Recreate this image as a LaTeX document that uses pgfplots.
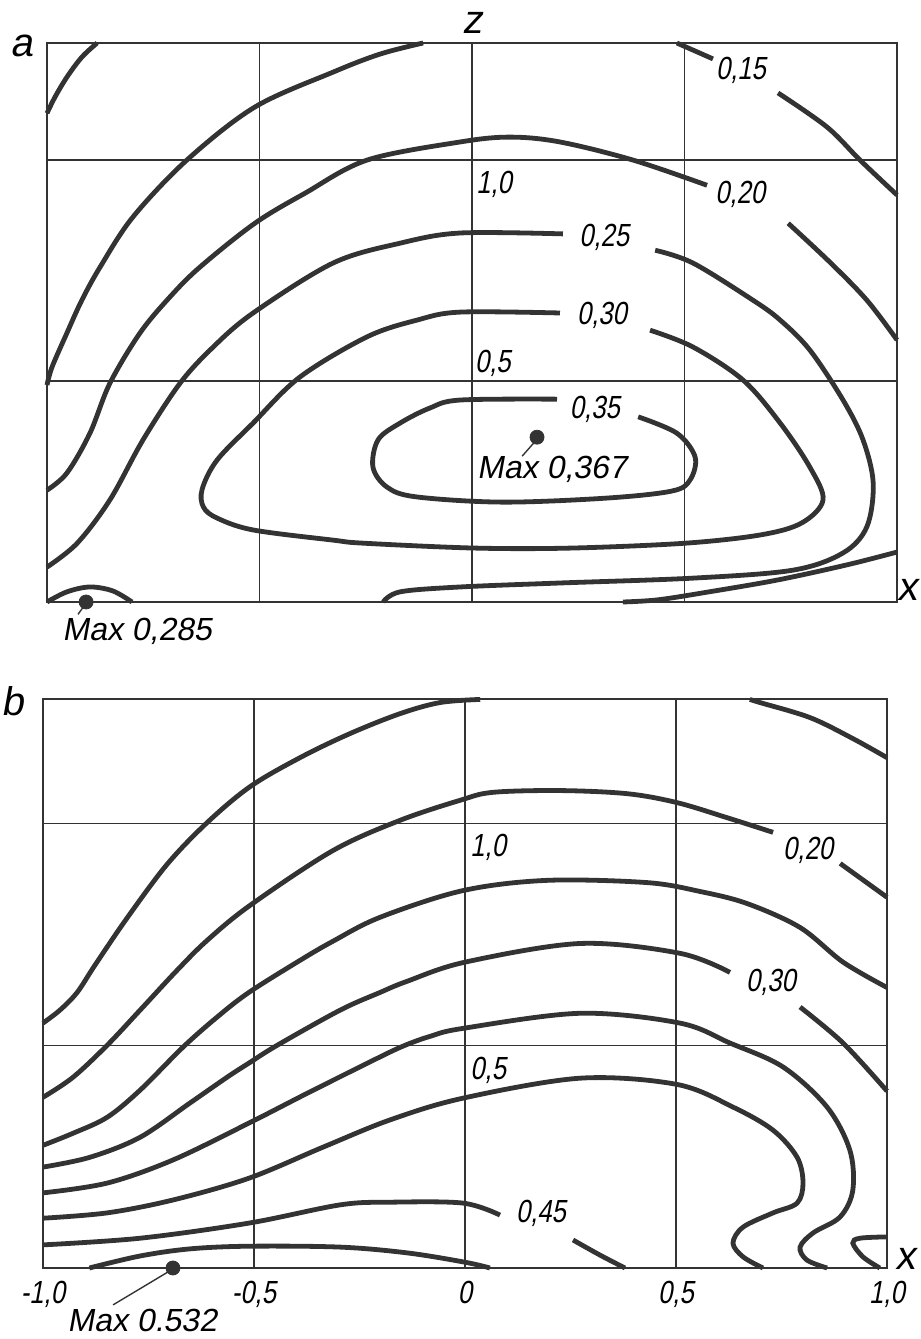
\documentclass[border=0pt]{standalone}
\usepackage{pgfplots}
\pgfplotsset{compat=1.18}
\usepackage{fontspec}
\setmainfont{Liberation Sans}
\newfontfamily\labfont[FakeSlant=0.18,FakeStretch=0.8]{Liberation Sans}
\newfontfamily\maxfont[FakeSlant=0.18]{Liberation Sans}
\newcommand\lab{\labfont\fontsize{16}{18}\selectfont}
\newcommand\mlab{\maxfont\fontsize{16}{18}\selectfont}
\newcommand\biglab{\maxfont\fontsize{20}{22}\selectfont}
\definecolor{ink}{HTML}{333333}
\pgfplotsset{
  cl/.style={ink, line width=2.4pt, smooth, tension=0.55},
  panel/.style={scale only axis, xmin=-1, xmax=1, ymin=0,
    axis line style={ink, line width=0.9pt},
    grid=major, major grid style={ink, line width=0.7pt},
    major tick length=0pt,
    ytick={0.5,1}, yticklabels={},
    clip=false},
}
\begin{document}
\begin{tikzpicture}
\path[use as bounding box] (0pt,0pt) rectangle (460.5pt,669.5pt);
% ---------------- panel a ----------------
\begin{axis}[panel, at={(23.5pt,368.5pt)}, anchor=south west,
  width=425pt, height=279.5pt, ymax=1.265,
  xtick={-0.5,0,0.5}, xticklabels={}]
\addplot[cl] coordinates {(-1,1.106) (-0.981,1.143) (-0.953,1.188) (-0.918,1.233) (-0.882,1.265)};
\addplot[cl] coordinates {(-0.115,1.265) (-0.216,1.240) (-0.327,1.199) (-0.511,1.120) (-0.671,1.0) (-0.798,0.871) (-0.875,0.758) (-0.918,0.683) (-0.953,0.609) (-0.988,0.532) (-1,0.491)};
\addplot[cl] coordinates {(0.482,1.265) (0.567,1.229)};
\addplot[cl] coordinates {(0.720,1.152) (0.835,1.075) (0.913,1.0) (1.0,0.921)};
% 0.20
\addplot[cl] coordinates {(-1,0.253) (-0.953,0.292) (-0.899,0.382) (-0.852,0.495) (-0.781,0.609) (-0.711,0.690) (-0.640,0.758) (-0.511,0.857) (-0.393,0.925) (-0.247,1.0) (-0.028,1.041) (0.089,1.052) (0.207,1.041) (0.379,1.0) (0.553,0.943)};
\addplot[cl] coordinates {(0.744,0.857) (0.842,0.769) (0.929,0.683) (1.0,0.593)};
% 0.25
\addplot[cl] coordinates {(-1,0.079) (-0.929,0.133) (-0.852,0.231) (-0.774,0.367) (-0.687,0.495) (-0.609,0.577) (-0.515,0.654) (-0.327,0.767) (-0.169,0.812) (-0.028,0.835) (0.214,0.833)};
\addplot[cl] coordinates {(0.431,0.796) (0.520,0.767) (0.661,0.683) (0.725,0.638) (0.795,0.570) (0.873,0.457) (0.920,0.367) (0.944,0.269) (0.929,0.170) (0.873,0.111) (0.755,0.072) (0.520,0.054) (0.207,0.043) (-0.028,0.034) (-0.169,0.023) (-0.209,0.0)};
% 0.30
\addplot[cl] coordinates {(0.207,0.654) (-0.028,0.656) (-0.129,0.638) (-0.247,0.600) (-0.405,0.509) (-0.515,0.405) (-0.600,0.321) (-0.635,0.255) (-0.632,0.215) (-0.600,0.190) (-0.515,0.163) (-0.327,0.140) (-0.254,0.133) (0.007,0.122) (0.233,0.122) (0.501,0.133) (0.680,0.152) (0.776,0.179) (0.826,0.231) (0.795,0.305) (0.725,0.405) (0.638,0.502) (0.520,0.577) (0.419,0.615)};
% 0.35
\addplot[cl] coordinates {(0.200,0.459) (-0.028,0.457) (-0.099,0.439) (-0.169,0.405) (-0.221,0.367) (-0.233,0.305) (-0.200,0.260) (-0.132,0.238) (0.071,0.226) (0.315,0.235) (0.470,0.251) (0.513,0.276) (0.525,0.328) (0.482,0.382) (0.391,0.419)};
% small lens near origin left
\addplot[cl] coordinates {(-1,0) (-0.953,0.023) (-0.899,0.034) (-0.845,0.025) (-0.800,0)};
% bottom right
\addplot[cl] coordinates {(1.0,0.113) (0.882,0.084) (0.720,0.050) (0.558,0.023) (0.438,0.005) (0.355,0)};
% maxima
\addplot[ink, line width=0.7pt] coordinates {(0.150,0.365) (0.118,0.330)};
\addplot[only marks, mark=*, mark size=3.5pt, ink] coordinates {(0.153,0.373)};
\addplot[ink, line width=0.7pt] coordinates {(-0.910,-0.005) (-0.927,-0.028)};
\addplot[only marks, mark=*, mark size=3.5pt, ink] coordinates {(-0.908,0)};
% labels
\node[font=\lab] at (0.633,1.204) {0,15};
\node[font=\lab] at (0.631,0.923) {0,20};
\node[font=\lab] at (0.311,0.826) {0,25};
\node[font=\lab] at (0.306,0.649) {0,30};
\node[font=\lab] at (0.289,0.437) {0,35};
\node[font=\lab] at (0.052,0.946) {1,0};
\node[font=\lab] at (0.049,0.541) {0,5};
\node[font=\mlab] at (0.188,0.299) {Max 0,367};
\node[font=\mlab] at (-0.788,-0.066) {Max 0,285};
\node[font=\biglab] at (0,1.31) {z};
\node[font=\biglab] at (-1.059,1.258) {a};
\node[font=\biglab, inner sep=0pt] at (1.024,0.028) {x};
\end{axis}
% ---------------- panel b ----------------
\begin{axis}[panel, at={(21.5pt,35.5pt)}, anchor=south west,
  width=422pt, height=284.5pt, ymax=1.28,
  xtick={-1,-0.5,0,0.5,1},
  xticklabels={{-1,0},{-0,5},{0},{0,5},{1,0}},
  xticklabel style={font=\lab, yshift=-3pt}]
\addplot[cl] coordinates {(-1,0.551) (-0.960,0.580) (-0.919,0.620) (-0.877,0.681) (-0.801,0.787) (-0.706,0.908) (-0.611,1.002) (-0.509,1.083) (-0.391,1.148) (-0.273,1.202) (-0.154,1.247) (-0.059,1.272) (0.036,1.279)};
\addplot[cl] coordinates {(0.675,1.279) (0.699,1.272) (0.818,1.238) (0.919,1.191) (1.0,1.148)};
% 0.20
\addplot[cl] coordinates {(-1,0.384) (-0.929,0.429) (-0.848,0.501) (-0.770,0.580) (-0.682,0.670) (-0.611,0.737) (-0.509,0.816) (-0.313,0.939) (-0.154,1.007) (-0.012,1.052) (0.066,1.070) (0.225,1.074) (0.384,1.067) (0.502,1.047) (0.621,1.013) (0.730,0.980)};
\addplot[cl] coordinates {(0.889,0.910) (1.0,0.834)};
\addplot[cl] coordinates {(-1,0.276) (-0.929,0.303) (-0.848,0.339) (-0.770,0.400) (-0.668,0.497) (-0.588,0.564) (-0.512,0.620) (-0.391,0.692) (-0.313,0.735) (-0.201,0.789) (-0.005,0.849) (0.194,0.872) (0.431,0.867) (0.557,0.847) (0.668,0.820) (0.794,0.766) (0.896,0.688) (1.0,0.631)};
% 0.30
\addplot[cl] coordinates {(-1,0.227) (-0.889,0.249) (-0.770,0.294) (-0.652,0.371) (-0.564,0.429) (-0.512,0.461) (-0.445,0.501) (-0.296,0.580) (-0.201,0.620) (-0.137,0.645) (0,0.688) (0.273,0.730) (0.509,0.708) (0.628,0.665)};
\addplot[cl] coordinates {(0.794,0.587) (0.896,0.506) (1.0,0.398)};
\addplot[cl] coordinates {(-1,0.169) (-0.848,0.191) (-0.692,0.243) (-0.512,0.326) (-0.374,0.393) (-0.218,0.467) (-0.147,0.499) (-0.083,0.521) (-0.005,0.539) (0.273,0.573) (0.509,0.551) (0.628,0.506) (0.754,0.452) (0.858,0.362) (0.912,0.265) (0.919,0.175) (0.889,0.115) (0.825,0.079) (0.794,0.047) (0.810,0.018) (0.858,0)};
\addplot[cl] coordinates {(-1,0.112) (-0.848,0.124) (-0.692,0.153) (-0.512,0.202) (-0.336,0.272) (-0.178,0.333) (-0.005,0.382) (0.273,0.427) (0.502,0.413) (0.635,0.362) (0.730,0.310) (0.787,0.249) (0.801,0.191) (0.787,0.146) (0.730,0.124) (0.659,0.092) (0.635,0.056) (0.659,0.025) (0.706,0)};
% 0.45
\addplot[cl] coordinates {(-1,0.052) (-0.770,0.067) (-0.512,0.101) (-0.296,0.142) (-0.178,0.148) (-0.005,0.146) (0.083,0.119)};
\addplot[cl] coordinates {(0.256,0.063) (0.320,0.029) (0.379,0)};
\addplot[cl] coordinates {(-0.89,0) (-0.770,0.027) (-0.652,0.043) (-0.512,0.049) (-0.296,0.047) (-0.137,0.034) (0,0.013) (0.059,0)};
\addplot[cl] coordinates {(1.0,0.070) (0.936,0.067) (0.919,0.056) (0.943,0.025) (0.983,0)};
% maximum
\addplot[ink, line width=0.7pt] coordinates {(-0.697,-0.005) (-0.834,-0.083)};
\addplot[only marks, mark=*, mark size=3.5pt, ink] coordinates {(-0.692,0)};
% labels
\node[font=\lab] at (0.813,0.939) {0,20};
\node[font=\lab] at (0.725,0.643) {0,30};
\node[font=\lab] at (0.180,0.124) {0,45};
\node[font=\lab] at (0.055,0.946) {1,0};
\node[font=\lab] at (0.055,0.445) {0,5};
\node[font=\mlab] at (-0.765,-0.117) {Max 0.532};
\node[font=\biglab] at (-1.071,1.276) {b};
\node[font=\biglab, inner sep=0pt] at (1.045,0.020) {x};
\end{axis}
\end{tikzpicture}
\end{document}
